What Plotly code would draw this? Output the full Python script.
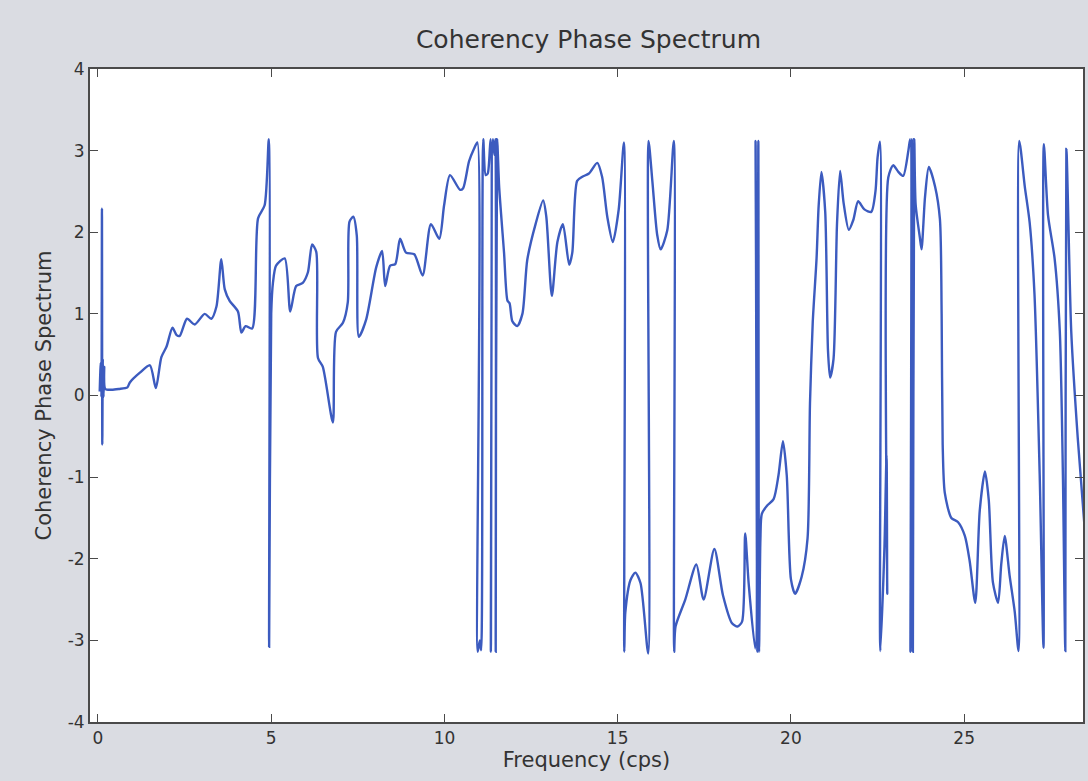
import plotly.graph_objects as go

# Frequency (cps) and coherency phase (radians)
freq = [
    0.05, 0.08, 0.10, 0.115, 0.125, 0.14, 0.16, 0.18, 0.21, 0.40, 0.60, 0.85, 0.92,
    1.21, 1.50, 1.67, 1.83, 1.98, 2.15, 2.27, 2.36, 2.57, 2.79, 3.08, 3.27, 3.42,
    3.56, 3.66, 3.80, 4.04, 4.14, 4.26, 4.45, 4.62, 4.81, 4.93, 4.94, 5.00, 5.05,
    5.14, 5.39, 5.55, 5.72, 5.91, 6.06, 6.18, 6.30, 6.35, 6.49, 6.78, 6.87, 7.07,
    7.21, 7.26, 7.37, 7.47, 7.53, 7.74, 8.03, 8.20, 8.29, 8.43, 8.58, 8.72, 8.89,
    9.13, 9.37, 9.61, 9.85, 9.99, 10.16, 10.45, 10.54, 10.71, 10.85, 10.95, 10.96,
    11.02, 11.06, 11.12, 11.19, 11.25, 11.33, 11.34, 11.40, 11.44, 11.47, 11.48,
    11.52, 11.58, 11.72, 11.82, 11.88, 11.96, 12.10, 12.25, 12.39, 12.63, 12.85,
    12.94, 13.10, 13.26, 13.42, 13.60, 13.69, 13.83, 13.98, 14.17, 14.41, 14.55,
    14.70, 14.86, 15.03, 15.18, 15.19, 15.22, 15.37, 15.51, 15.66, 15.88, 15.89,
    16.00, 16.14, 16.24, 16.43, 16.62, 16.63, 16.67, 16.95, 17.27, 17.48, 17.79,
    18.04, 18.30, 18.46, 18.59, 18.68, 18.78, 18.97, 18.98, 19.03, 19.06, 19.08,
    19.12, 19.16, 19.31, 19.50, 19.64, 19.77, 19.88, 20.00, 20.12, 20.31, 20.48,
    20.55, 20.63, 20.74, 20.80, 20.88, 20.99, 21.07, 21.13, 21.23, 21.33, 21.42,
    21.52, 21.67, 21.80, 21.94, 22.12, 22.32, 22.44, 22.50, 22.57, 22.58, 22.70,
    22.76, 22.78, 22.81, 22.95, 23.10, 23.24, 23.39, 23.44, 23.45, 23.49, 23.52,
    23.56, 23.60, 23.72, 23.77, 23.87, 23.98, 24.16, 24.30, 24.35, 24.38, 24.44,
    24.63, 24.82, 25.02, 25.16, 25.32, 25.45, 25.60, 25.71, 25.83, 25.98, 26.07,
    26.17, 26.31, 26.46, 26.57, 26.59, 26.75, 26.89, 27.03, 27.18, 27.29, 27.30,
    27.42, 27.61, 27.76, 27.85, 27.92, 27.95, 28.09, 28.28, 28.50,
]
phase = [
    0.05, 0.40, -0.02, 2.29, -0.60, 0.45, -0.02, 0.35, 0.08, 0.07, 0.08, 0.10, 0.16,
    0.28, 0.37, 0.09, 0.47, 0.60, 0.83, 0.74, 0.73, 0.94, 0.87, 1.00, 0.94, 1.09,
    1.67, 1.30, 1.16, 1.03, 0.77, 0.85, 0.82, 2.17, 2.33, 3.14, -3.08, 1.00, 1.38,
    1.59, 1.68, 1.03, 1.34, 1.38, 1.51, 1.85, 1.76, 0.46, 0.35, -0.33, 0.78, 0.89,
    1.14, 2.13, 2.19, 1.96, 0.72, 0.93, 1.57, 1.77, 1.34, 1.59, 1.61, 1.92, 1.75,
    1.73, 1.47, 2.10, 1.92, 2.33, 2.70, 2.52, 2.54, 2.87, 3.02, 3.10, -3.14,
    -3.00, -3.12, 3.14, 2.70, 2.72, 3.14, -3.14, 3.14, 2.95, 3.14, -3.14,
    3.14, 2.55, 1.75, 1.16, 1.13, 0.91, 0.85, 1.00, 1.66, 2.10, 2.39,
    2.19, 1.22, 1.88, 2.10, 1.60, 1.75, 2.63, 2.68, 2.72, 2.85, 2.68,
    2.19, 1.88, 2.28, 3.10, -3.14, -2.66, -2.26, -2.17, -2.30, -3.16, 3.12,
    2.63, 1.97, 1.79, 2.02, 3.12, -3.14, -2.83, -2.50, -2.07, -2.50, -1.88,
    -2.45, -2.79, -2.83, -2.77, -1.69, -2.30, -3.10, 3.12, -3.14, 3.12, -3.14,
    -1.75, -1.45, -1.35, -1.27, -0.98, -0.56, -0.98, -2.25, -2.43, -2.22, -1.75,
    -0.10, 0.90, 1.68, 2.32, 2.74, 2.25, 0.55, 0.22, 0.45, 2.10, 2.75,
    2.36, 2.03, 2.15, 2.38, 2.28, 2.25, 2.50, 2.91, 3.11, -3.13, -1.85,
    -0.73, -2.43, 2.67, 2.82, 2.74, 2.69, 3.00, 3.14, -3.14, 3.14, -3.14,
    3.14, 2.34, 1.94, 1.79, 2.43, 2.80, 2.56, 2.16, 1.00, -0.60, -1.19,
    -1.50, -1.55, -1.72, -2.03, -2.54, -1.41, -0.93, -1.28, -2.29, -2.54, -2.07,
    -1.72, -2.20, -2.65, -3.13, 3.12, 2.56, 2.12, 1.24, -0.97, -3.09, 3.08,
    2.21, 1.68, 0.79, -0.97, -3.13, 3.02, 0.79, -0.53, -1.75,
]

x_ticks = [0, 5, 10, 15, 20, 25]
y_ticks = [-4, -3, -2, -1, 0, 1, 2, 3, 4]

font_family = "DejaVu Sans, Verdana, sans-serif"
axis_color = "#4a4a4a"
text_color = "#333333"

fig = go.Figure()
fig.add_trace(go.Scatter(
    x=freq, y=phase, mode="lines",
    line=dict(color="#3c5bbf", width=2.4, shape="spline", smoothing=0.7),
    showlegend=False,
))

fig.update_layout(
    width=1088, height=781,
    margin=dict(l=90, r=3, t=69, b=59),
    paper_bgcolor="#dadce2",
    plot_bgcolor="#ffffff",
    font=dict(family=font_family, color=text_color, size=17),
    title=dict(
        text="Coherency Phase Spectrum",
        x=0.502, xanchor="center", xref="paper",
        y=1 - 39 / 781, yanchor="middle", yref="container",
        font=dict(size=25, color=text_color, family=font_family),
    ),
    xaxis=dict(
        range=[-0.23, 28.43],
        tickvals=x_ticks, ticktext=[str(v) for v in x_ticks],
        ticks="inside", ticklen=8, tickcolor=axis_color, tickwidth=1,
        showline=True, linecolor=axis_color, linewidth=2, mirror="allticks",
        showgrid=False, zeroline=False,
        tickfont=dict(size=17, color=text_color),
        title=dict(text="Frequency (cps)", standoff=2,
                   font=dict(size=21, color=text_color)),
    ),
    yaxis=dict(
        range=[-4, 4],
        tickvals=y_ticks, ticktext=[str(v) for v in y_ticks],
        ticks="inside", ticklen=8, tickcolor=axis_color, tickwidth=1,
        showline=True, linecolor=axis_color, linewidth=2, mirror="allticks",
        showgrid=False, zeroline=False,
        tickfont=dict(size=17, color=text_color),
        title=dict(text="Coherency Phase Spectrum", standoff=10,
                   font=dict(size=21, color=text_color)),
    ),
)

fig.write_html("out.html")
